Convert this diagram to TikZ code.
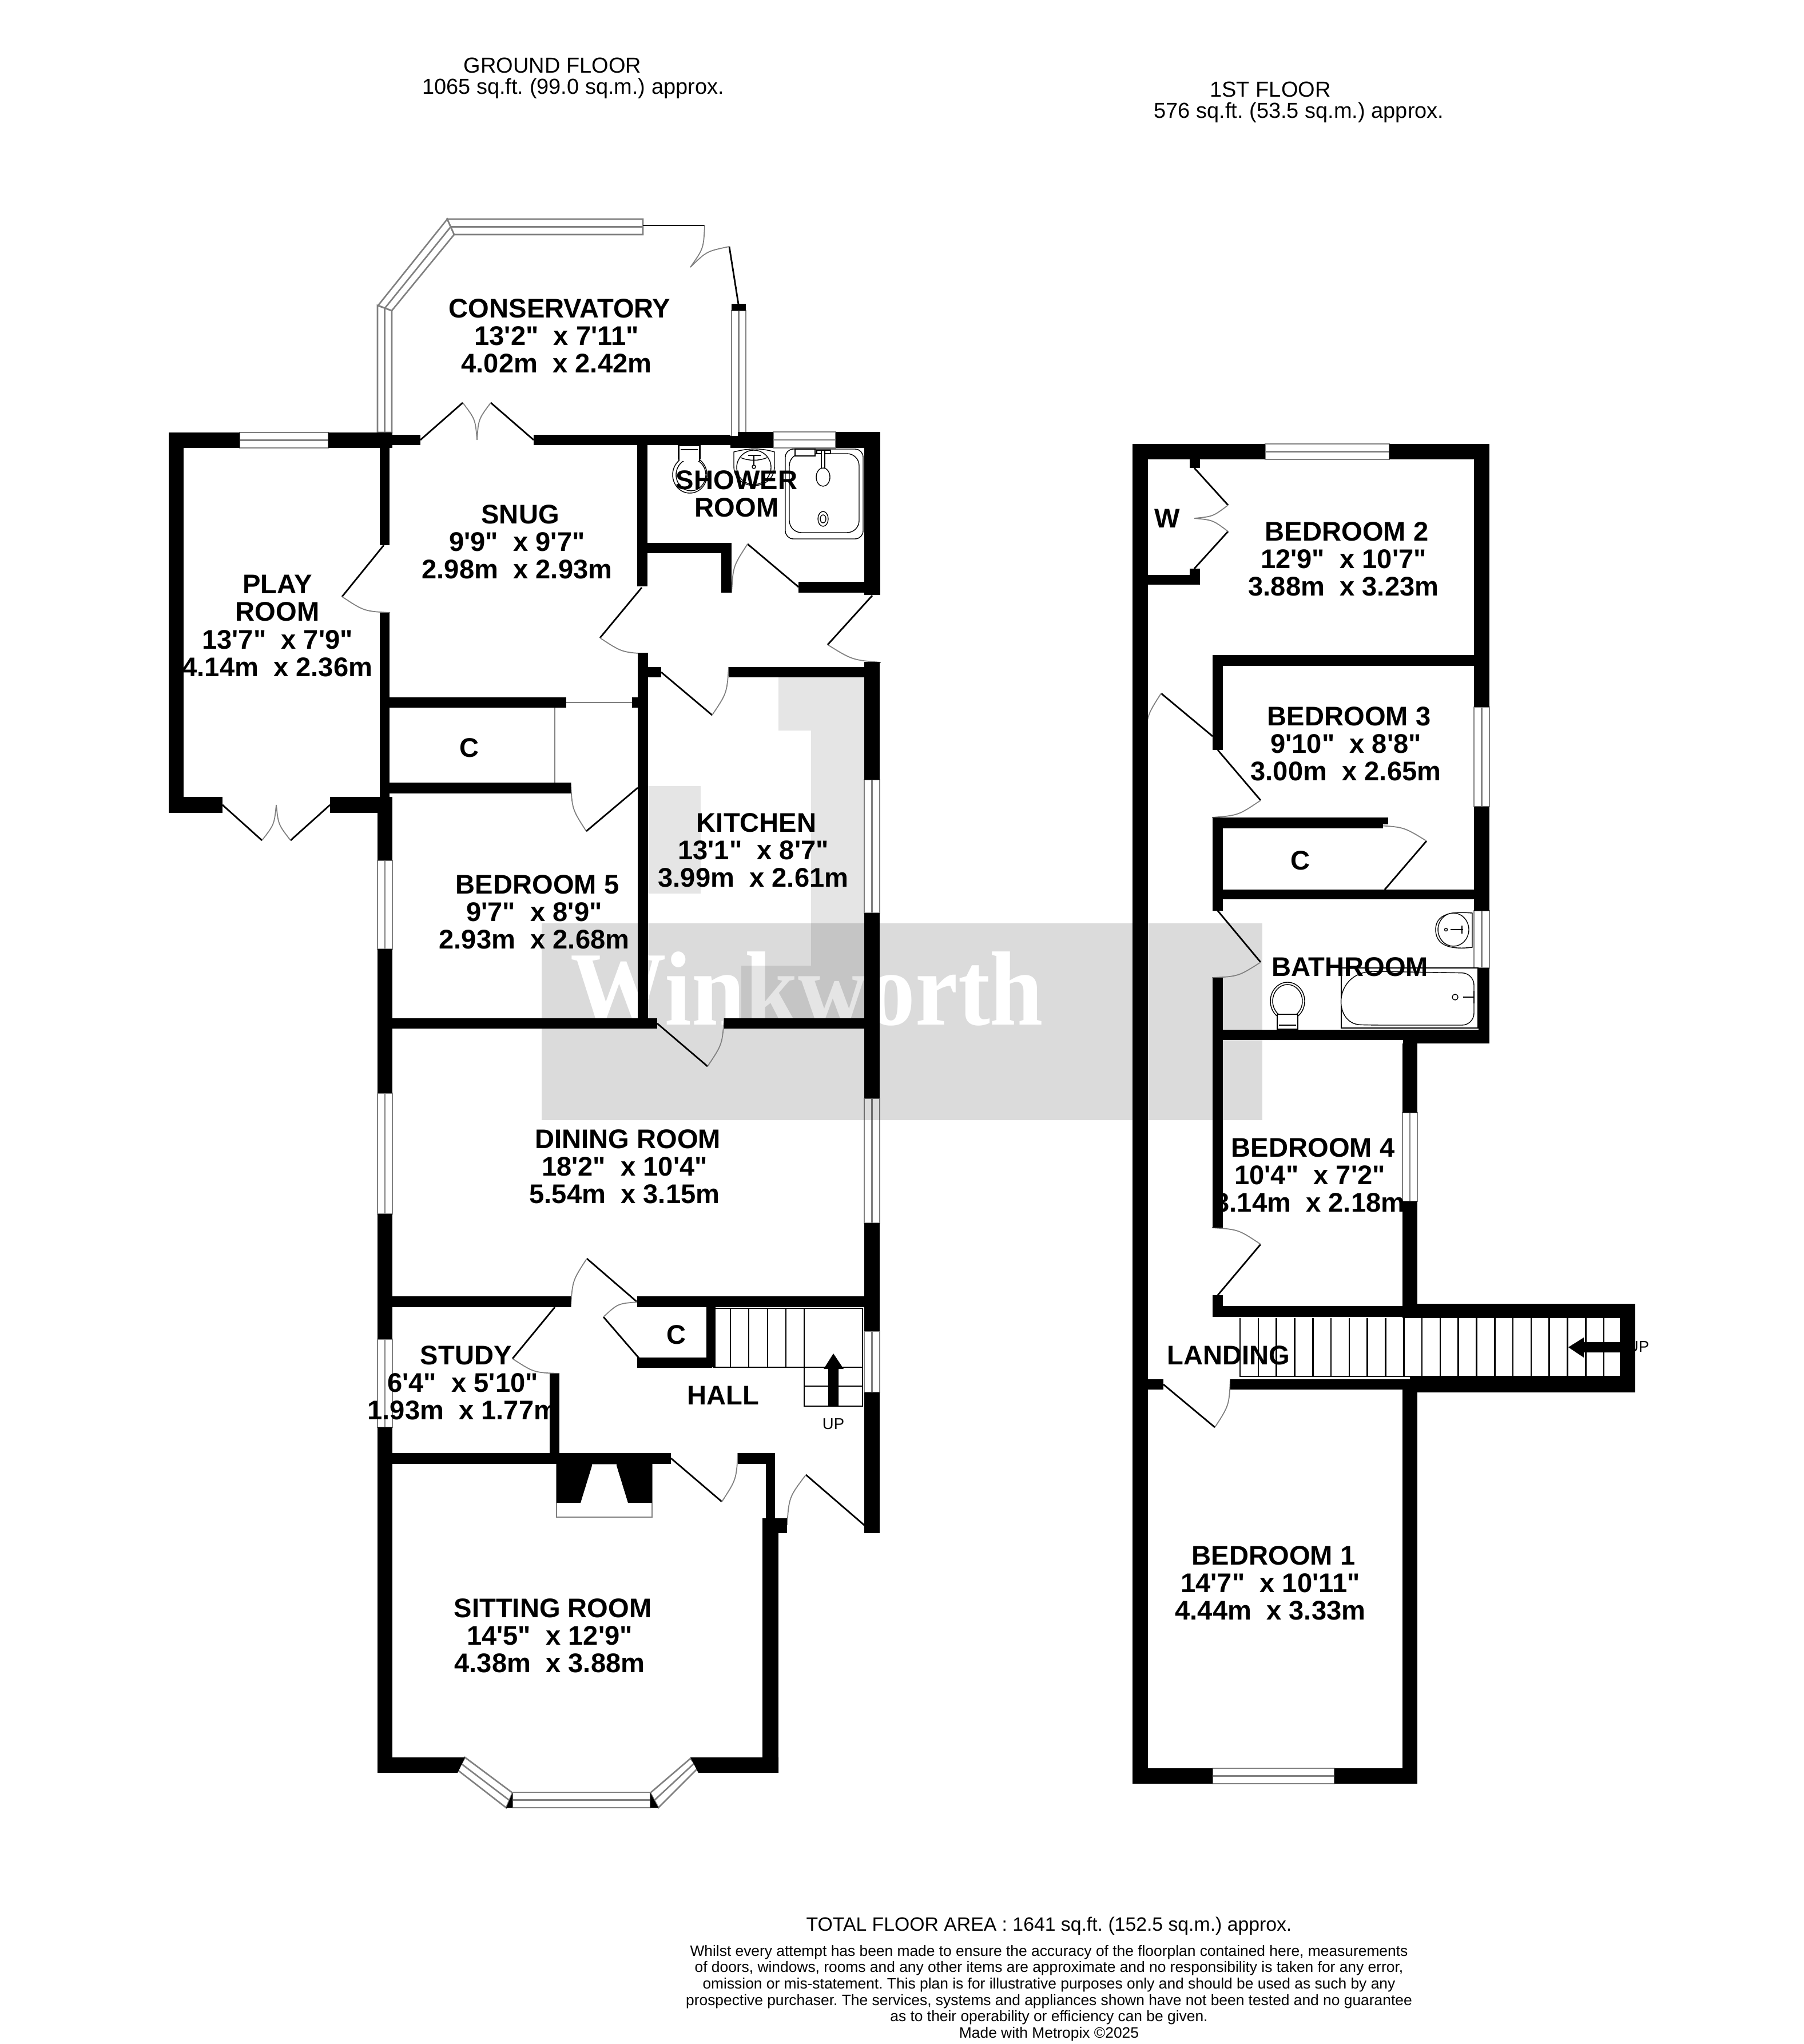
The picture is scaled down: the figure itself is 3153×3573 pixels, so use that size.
\documentclass[tikz,border=0pt]{standalone}
\usepackage{fontspec}
\usetikzlibrary{calc}
\newfontfamily\planfont{Liberation Sans}
\newfontfamily\logofont[FakeStretch=0.91]{Liberation Serif}
\definecolor{glasscol}{gray}{0.5}
\frenchspacing
\tikzset{
  roomlabel/.style={font=\planfont\bfseries\fontsize{13.4}{13.7}\selectfont, align=center, inner sep=0pt},
  headlabel/.style={font=\planfont\fontsize{10.8}{11}\selectfont, align=center, inner sep=0pt},
  totallabel/.style={font=\planfont\fontsize{9.6}{11}\selectfont, align=center, inner sep=0pt},
  uplabel/.style={font=\planfont\fontsize{7.8}{8}\selectfont, inner sep=0pt},
  smallprint/.style={font=\planfont\fontsize{7.5}{8.17}\selectfont, align=center, inner sep=0pt},
  leafline/.style={black, line width=0.8pt},
  swingline/.style={glasscol, line width=0.5pt},
  glassline/.style={glasscol, line width=0.75pt, fill=white},
  treadline/.style={black, line width=0.75pt},
  fixture/.style={black, line width=0.4pt, fill=white}
}
% door: hinge, open end, jamb
\newcommand\doorleaf[3]{
  \draw[leafline] #1 -- #2;
  \draw[swingline] #2 .. controls ($0.555*#2+0.555*#3-0.11*#1$) .. #3;
}
% window: four corners round the pane
\newcommand\glazing[4]{
  \draw[glassline] #1 -- #2 -- #3 -- #4 -- cycle;
  \draw[glasscol, line width=0.75pt] ($#1!.5!#4$) -- ($#2!.5!#3$);
}
% the room name sits a little right of its sizes
\newcommand\roomhead[1]{\hspace*{3.2pt}#1}
\begin{document}
\begin{tikzpicture}[x=0.01cm,y=-0.01cm]
\useasboundingbox (0,0) rectangle (3153,3573);

% windows, ground floor
\glazing{(419,756)}{(574,756)}{(574,783)}{(419,783)}
\glazing{(660,756)}{(660,534)}{(685,543)}{(685,756)}
\glazing{(661,534)}{(782,383)}{(794,410)}{(685,543)}
\glazing{(782,383)}{(1124,383)}{(1124,410)}{(794,410)}
\glazing{(1279,763)}{(1279,543)}{(1304,543)}{(1304,763)}
\glazing{(1352,755)}{(1461,755)}{(1461,783)}{(1352,783)}
\glazing{(660,1504)}{(660,1659)}{(686,1659)}{(686,1504)}
\glazing{(660,1911)}{(660,2122)}{(686,2122)}{(686,1911)}
\glazing{(660,2341)}{(660,2495)}{(686,2495)}{(686,2341)}
\glazing{(1511,1363)}{(1511,1596)}{(1538,1596)}{(1538,1363)}
\glazing{(1511,1920)}{(1511,2138)}{(1538,2138)}{(1538,1920)}
\glazing{(1511,2327)}{(1511,2434)}{(1538,2434)}{(1538,2327)}
\glazing{(813,3072)}{(896,3134)}{(885,3160)}{(800,3094)}
\glazing{(896,3133)}{(1137,3133)}{(1137,3160)}{(896,3160)}
\glazing{(1137,3134)}{(1207,3074)}{(1221,3090)}{(1151,3160)}
% windows, 1st floor
\glazing{(2212,776)}{(2429,776)}{(2429,803)}{(2212,803)}
\glazing{(2577,1236)}{(2577,1410)}{(2604,1410)}{(2604,1236)}
\glazing{(2577,1592)}{(2577,1692)}{(2604,1692)}{(2604,1592)}
\glazing{(2452,1945)}{(2452,2100)}{(2478,2100)}{(2478,1945)}
\glazing{(2120,3091)}{(2333,3091)}{(2333,3118)}{(2120,3118)}

% watermark
\fill[black, opacity=0.14] (947,1614) rectangle (2207,1958);
\node[font=\logofont\bfseries\fontsize{52.4}{52.4}\selectfont, white, inner sep=0pt, anchor=base] (logo) at (1411,1791) {Winkworth};
\fill[black, opacity=0.1] (1361,1184) -- (1511,1184) -- (1511,1780) -- (1296,1780) -- (1296,1688) -- (1418,1688) -- (1418,1277) -- (1361,1277) -- cycle;
\fill[black, opacity=0.1] (1133,1374) rectangle (1225,1562);

% shower room fittings
\draw[fixture] (1186,779) rectangle (1224,802);
\draw[fixture] (1190,786) -- (1220,786);
\draw[fixture] (1206,830) ellipse (30 and 32);
\draw[fixture] (1208,830) ellipse (26 and 28);
\fill[white] (1187,780) rectangle (1223,806);
\draw[fixture] (1187,779) -- (1187,806) (1223,779) -- (1223,806);
\draw[fixture] (1190,786) -- (1220,786);
\draw[fixture] (1283,790) .. controls (1310,783) and (1330,783) .. (1354,790) -- (1354,815) .. controls (1354,860) and (1283,860) .. (1283,815) -- cycle;
\draw[fixture] (1318,817) ellipse (30 and 30);
\draw[fixture] (1295,800) .. controls (1310,806) and (1326,806) .. (1341,800);
\draw[fixture] (1308,796) -- (1330,796) (1318,796) -- (1318,814);
\draw[fixture] (1318,816) circle (3);
\draw[fixture, rounded corners=4] (1373,785) rectangle (1509,942);
\draw[fixture, rounded corners=6] (1380,793) rectangle (1502,931);
\draw[fixture] (1390,785) rectangle (1425,797);
\draw[fixture] (1428,787) rectangle (1452,793);
\draw[fixture] (1436,787) rectangle (1442,820);
\draw[fixture] (1439,834) ellipse (12 and 16);
\draw[fixture] (1439,907) ellipse (9 and 13);
\draw[fixture] (1439,907) ellipse (5 and 7);

% bathroom fittings
\draw[fixture] (2251,1750) ellipse (30 and 33);
\draw[fixture] (2251,1750) ellipse (26 and 29);
\draw[fixture] (2233,1773) rectangle (2269,1799);
\draw[fixture] (2236,1792) -- (2266,1792);
\draw[fixture] (2574,1596) .. controls (2555,1595) and (2510,1590) .. (2510,1625) .. controls (2510,1662) and (2555,1658) .. (2574,1656) -- cycle;
\draw[fixture] (2541,1625) ellipse (27 and 29);
\draw[fixture] (2528,1625) circle (2.5);
\draw[fixture] (2536,1625) -- (2558,1625) (2556,1618) -- (2556,1632);
\draw[fixture] (2345,1692) rectangle (2584,1797);
\draw[fixture, rounded corners=6] (2400,1698) -- (2577,1701) -- (2577,1792) -- (2400,1792) .. controls (2330,1790) and (2330,1700) .. (2400,1698);
\draw[fixture] (2544,1743) circle (5);
\draw[fixture] (2558,1743) -- (2578,1743) (2577,1732) -- (2577,1754);

% labels
\node[headlabel] (groundtitle) at (966,114) {GROUND FLOOR};
\node[headlabel] (groundarea) at (1002,155) {1065 sq.ft. (99.0 sq.m.) approx.};
\node[headlabel] (firsttitle) at (2221,156) {1ST FLOOR};
\node[headlabel] (firstarea) at (2271,197) {576 sq.ft. (53.5 sq.m.) approx.};
\node[roomlabel] (conservatory) at (973,587) {\roomhead{CONSERVATORY}\\13'2"\ \ x 7'11"\\4.02m\ \ x 2.42m};
\node[roomlabel] (snug) at (904,947) {\roomhead{SNUG}\\9'9"\ \ x 9'7"\\2.98m\ \ x 2.93m};
\node[roomlabel] (playroom) at (485,1094) {PLAY\\ROOM\\13'7"\ \ x 7'9"\\4.14m\ \ x 2.36m};
\node[roomlabel] (showerroom) at (1288,863) {SHOWER\\ROOM};
\node[roomlabel] (kitchen) at (1317,1486) {\roomhead{KITCHEN}\\13'1"\ \ x 8'7"\\3.99m\ \ x 2.61m};
\node[roomlabel] (cupboardg) at (821,1307) {C};
\node[roomlabel] (bedroomfive) at (934,1594) {\roomhead{BEDROOM 5}\\9'7"\ \ x 8'9"\\2.93m\ \ x 2.68m};
\node[roomlabel] (diningroom) at (1092,2039) {\roomhead{DINING ROOM}\\18'2"\ \ x 10'4"\\5.54m\ \ x 3.15m};
\node[roomlabel] (study) at (809,2417) {\roomhead{STUDY}\\6'4"\ \ x 5'10"\\1.93m\ \ x 1.77m};
\node[roomlabel] (hall) at (1264,2439) {HALL};
\node[roomlabel] (cupboardh) at (1182,2333) {C};
\node[roomlabel] (sittingroom) at (961,2859) {\roomhead{SITTING ROOM}\\14'5"\ \ x 12'9"\\4.38m\ \ x 3.88m};
\node[roomlabel] (wardrobe) at (2041,906) {W};
\node[roomlabel] (bedroomtwo) at (2349,977) {\roomhead{BEDROOM 2}\\12'9"\ \ x 10'7"\\3.88m\ \ x 3.23m};
\node[roomlabel] (bedroomthree) at (2353,1300) {\roomhead{BEDROOM 3}\\9'10"\ \ x 8'8"\\3.00m\ \ x 2.65m};
\node[roomlabel] (cupboardf) at (2273,1504) {C};
\node[roomlabel] (bathroom) at (2360,1690) {BATHROOM};
\node[roomlabel] (bedroomfour) at (2290,2054) {\roomhead{BEDROOM 4}\\10'4"\ \ x 7'2"\\3.14m\ \ x 2.18m};
\node[roomlabel] (landing) at (2148,2369) {LANDING};
\node[roomlabel] (bedroomone) at (2221,2767) {\roomhead{BEDROOM 1}\\14'7"\ \ x 10'11"\\4.44m\ \ x 3.33m};
\node[uplabel] (upground) at (1457,2489) {UP};
\node[uplabel] (upfirst) at (2864,2354) {UP};
\node[totallabel] (totalarea) at (1834,3367) {TOTAL FLOOR AREA : 1641 sq.ft. (152.5 sq.m.) approx.};
\node[smallprint] (disclaimer) at (1834,3484) {Whilst every attempt has been made to ensure the accuracy of the floorplan contained here, measurements\\of doors, windows, rooms and any other items are approximate and no responsibility is taken for any error,\\omission or mis-statement. This plan is for illustrative purposes only and should be used as such by any\\prospective purchaser. The services, systems and appliances shown have not been tested and no guarantee\\as to their operability or efficiency can be given.\\Made with Metropix \textcopyright 2025};

% stairs, ground floor
\draw[treadline] (1246,2287) -- (1508,2287) -- (1508,2458) -- (1406,2458) -- (1406,2390) -- (1246,2390);
\foreach \x in {1277,1309,1342,1374,1406} {
  \draw[treadline] (\x,2287) -- (\x,2390);
}
\draw[treadline] (1406,2390) -- (1508,2390) (1406,2423) -- (1508,2423);
\fill (1448,2458) -- (1448,2393) -- (1440,2393) -- (1457,2366) -- (1475,2393) -- (1466,2393) -- (1466,2458) -- cycle;

% stairs, 1st floor
\draw[treadline] (2168,2304) -- (2168,2406) -- (2832,2406);
\foreach \x in {0,...,20} {
  \draw[treadline] ({2168+31.8*\x},2304) -- ({2168+31.8*\x},2406);
}
\fill (2832,2346) -- (2769,2346) -- (2769,2338) -- (2742,2355) -- (2769,2373) -- (2769,2364) -- (2832,2364) -- cycle;

% doors, ground floor
\doorleaf{(735,769)}{(809,704)}{(834,769)}
\doorleaf{(933,769)}{(858,704)}{(834,769)}
\doorleaf{(1124,394)}{(1232,394)}{(1207,467)}
\doorleaf{(1292,538)}{(1275,431)}{(1207,467)}
\doorleaf{(671,953)}{(598,1043)}{(682,1071)}
\doorleaf{(389,1407)}{(458,1469)}{(483,1407)}
\doorleaf{(577,1407)}{(508,1469)}{(483,1407)}
\doorleaf{(1396,1026)}{(1307,951)}{(1279,1036)}
\doorleaf{(1122,1027)}{(1049,1115)}{(1132,1143)}
\doorleaf{(1525,1041)}{(1447,1127)}{(1540,1158)}
\doorleaf{(1156,1175)}{(1245,1250)}{(1274,1166)}
\doorleaf{(1115,1377)}{(1025,1453)}{(998,1368)}
\doorleaf{(1149,1789)}{(1237,1864)}{(1266,1780)}
\doorleaf{(1114,2276)}{(1026,2200)}{(998,2285)}
\doorleaf{(1124,2382)}{(1055,2302)}{(1114,2276)}
\doorleaf{(970,2285)}{(896,2375)}{(978,2401)}
\doorleaf{(1173,2549)}{(1262,2625)}{(1290,2540)}
\doorleaf{(1511,2666)}{(1409,2578)}{(1376,2666)}
\draw[swingline] (990,1228) -- (1105,1228) (970,1237) -- (970,1371);
% fireplace
\draw[glasscol, line width=0.5pt] (973,2559) rectangle (1140,2652);
\fill (973,2559) -- (1035,2559) -- (1035,2562) -- (1015,2627) -- (973,2627) -- cycle;
\fill (1140,2559) -- (1078,2559) -- (1078,2562) -- (1098,2627) -- (1140,2627) -- cycle;

% doors, 1st floor
\doorleaf{(2088,818)}{(2147,883)}{(2088,906)}
\doorleaf{(2088,994)}{(2147,929)}{(2088,906)}
\doorleaf{(2120,1287)}{(2030,1212)}{(2003,1297)}
\doorleaf{(2129,1311)}{(2204,1399)}{(2119,1429)}
\doorleaf{(2421,1555)}{(2494,1470)}{(2408,1443)}
\doorleaf{(2129,1592)}{(2204,1682)}{(2119,1709)}
\doorleaf{(2129,2264)}{(2204,2175)}{(2119,2146)}
\doorleaf{(2034,2420)}{(2124,2495)}{(2151,2411)}

% walls, ground floor
\fill (295,756) rectangle (321,1421);
\fill (295,756) rectangle (419,783);
\fill (574,756) rectangle (686,783);
\fill (295,1393) rectangle (389,1421);
\fill (577,1393) rectangle (664,1421);
\fill (664,783) rectangle (681,953);
\fill (664,1071) rectangle (681,1393);
\fill (620,1393) rectangle (686,1419);
\fill (686,760) rectangle (735,778);
\fill (933,760) rectangle (1277,778);
\fill (1277,762) rectangle (1290,783);
\fill (1279,531) rectangle (1304,543);
\fill (1290,755) rectangle (1352,783);
\fill (1461,755) rectangle (1539,783);
\fill (1511,755) rectangle (1539,1040);
\fill (1114,778) rectangle (1132,1025);
\fill (1114,949) rectangle (1279,967);
\fill (1261,949) rectangle (1279,1036);
\fill (1396,1017) rectangle (1511,1036);
\fill (1115,1141) rectangle (1133,1798);
\fill (1133,1166) rectangle (1156,1184);
\fill (1274,1166) rectangle (1511,1184);
\fill (681,1219) rectangle (990,1237);
\fill (681,1368) rectangle (998,1387);
\fill (1105,1219) rectangle (1115,1237);
\fill (660,1393) rectangle (686,1504);
\fill (660,1659) rectangle (686,1911);
\fill (660,2122) rectangle (686,2341);
\fill (660,2495) rectangle (686,3099);
\fill (686,1780) rectangle (1149,1798);
\fill (1266,1780) rectangle (1511,1798);
\fill (1511,1157) rectangle (1538,1363);
\fill (1511,1596) rectangle (1538,1920);
\fill (1511,2138) rectangle (1538,2327);
\fill (1511,2434) rectangle (1538,2680);
\fill (686,2266) rectangle (998,2285);
\fill (1114,2266) rectangle (1511,2285);
\fill (1235,2285) rectangle (1251,2390);
\fill (1114,2373) rectangle (1245,2391);
\fill (961,2401) rectangle (978,2540);
\fill (686,2540) rectangle (1173,2559);
\fill (1290,2540) rectangle (1355,2559);
\fill (1339,2540) rectangle (1355,2654);
\fill (1333,2654) rectangle (1361,3099);
\fill (1333,2654) rectangle (1376,2680);
\fill (660,3072) -- (813,3072) -- (800,3099) -- (660,3099) -- cycle;
\fill (1207,3072) -- (1361,3072) -- (1361,3099) -- (1221,3099) -- cycle;
\fill (885,3160) -- (896,3134) -- (896,3160) -- cycle;
\fill (1137,3134) -- (1151,3160) -- (1137,3160) -- cycle;

% walls, 1st floor
\fill (1980,776) rectangle (2007,3118);
\fill (1980,776) rectangle (2212,803);
\fill (2429,776) rectangle (2604,803);
\fill (2577,776) rectangle (2604,1236);
\fill (2577,1410) rectangle (2604,1592);
\fill (2585,1692) rectangle (2604,1824);
\fill (2080,803) rectangle (2098,818);
\fill (2007,1005) rectangle (2098,1022);
\fill (2080,994) rectangle (2098,1022);
\fill (2120,1145) rectangle (2604,1164);
\fill (2120,1145) rectangle (2138,1311);
\fill (2120,1429) rectangle (2138,1592);
\fill (2120,1429) rectangle (2418,1448);
\fill (2418,1429) rectangle (2427,1441);
\fill (2120,1555) rectangle (2604,1572);
\fill (2120,1709) rectangle (2138,2146);
\fill (2120,1800) rectangle (2453,1818);
\fill (2453,1800) rectangle (2604,1824);
\fill (2452,1824) rectangle (2478,1945);
\fill (2452,2100) rectangle (2478,2304);
\fill (2120,2264) rectangle (2138,2302);
\fill (2120,2283) rectangle (2453,2302);
\fill (2452,2279) rectangle (2859,2304);
\fill (2832,2279) rectangle (2859,2434);
\fill (2465,2406) rectangle (2859,2434);
\fill (2151,2411) rectangle (2453,2429);
\fill (2007,2411) rectangle (2034,2429);
\fill (2452,2411) rectangle (2478,3118);
\fill (1980,3091) rectangle (2120,3118);
\fill (2333,3091) rectangle (2478,3118);
\end{tikzpicture}
\end{document}
